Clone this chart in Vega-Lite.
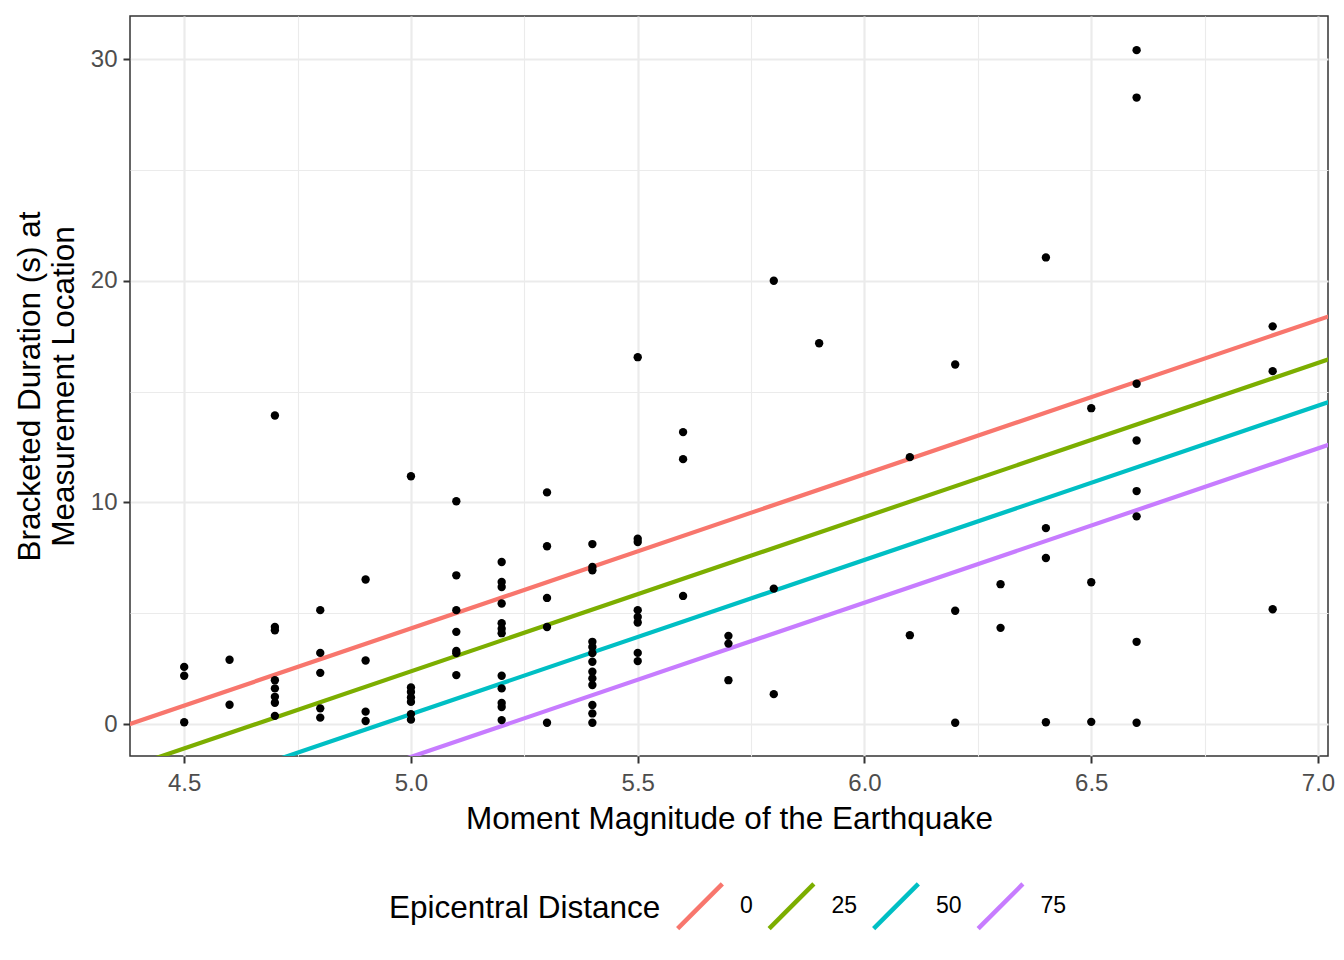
{
  "$schema": "https://vega.github.io/schema/vega-lite/v6.json",
  "width": 1198,
  "height": 740,
  "autosize": {"type": "none"},
  "padding": {"left": 130, "top": 16, "right": 16, "bottom": 204},
  "background": "white",
  "config": {
    "font": "Liberation Sans",
    "view": {"stroke": "#333333", "strokeWidth": 1.5},
    "axis": {
      "domain": false,
      "gridColor": "#EBEBEB",
      "gridWidth": 2.2,
      "tickColor": "#333333",
      "tickWidth": 2,
      "tickSize": 7,
      "labelFont": "Liberation Sans",
      "labelFontSize": 24,
      "labelColor": "#4D4D4D",
      "titleFont": "Liberation Sans",
      "titleFontSize": 31.5,
      "titleFontWeight": "normal",
      "titleColor": "#000000"
    },
    "legend": {
      "labelFont": "Liberation Sans",
      "titleFont": "Liberation Sans"
    }
  },
  "datasets": {
    "pts": [
      {"mag": 4.5, "dur": 2.58}, {"mag": 4.5, "dur": 2.18}, {"mag": 4.5, "dur": 0.08},
      {"mag": 4.6, "dur": 2.90}, {"mag": 4.6, "dur": 0.87},
      {"mag": 4.7, "dur": 13.92}, {"mag": 4.7, "dur": 4.38}, {"mag": 4.7, "dur": 4.23}, {"mag": 4.7, "dur": 1.98}, {"mag": 4.7, "dur": 1.61}, {"mag": 4.7, "dur": 1.23}, {"mag": 4.7, "dur": 0.96}, {"mag": 4.7, "dur": 0.37},
      {"mag": 4.8, "dur": 5.14}, {"mag": 4.8, "dur": 3.21}, {"mag": 4.8, "dur": 2.31}, {"mag": 4.8, "dur": 0.71}, {"mag": 4.8, "dur": 0.29},
      {"mag": 4.9, "dur": 6.52}, {"mag": 4.9, "dur": 2.87}, {"mag": 4.9, "dur": 0.56}, {"mag": 4.9, "dur": 0.14},
      {"mag": 5.0, "dur": 11.18}, {"mag": 5.0, "dur": 1.65}, {"mag": 5.0, "dur": 1.45}, {"mag": 5.0, "dur": 1.2}, {"mag": 5.0, "dur": 1.0}, {"mag": 5.0, "dur": 0.45}, {"mag": 5.0, "dur": 0.2},
      {"mag": 5.1, "dur": 10.05}, {"mag": 5.1, "dur": 6.71}, {"mag": 5.1, "dur": 5.14}, {"mag": 5.1, "dur": 4.16}, {"mag": 5.1, "dur": 3.30}, {"mag": 5.1, "dur": 3.20}, {"mag": 5.1, "dur": 2.21},
      {"mag": 5.2, "dur": 7.31}, {"mag": 5.2, "dur": 6.41}, {"mag": 5.2, "dur": 6.18}, {"mag": 5.2, "dur": 5.44}, {"mag": 5.2, "dur": 4.55}, {"mag": 5.2, "dur": 4.30}, {"mag": 5.2, "dur": 4.1}, {"mag": 5.2, "dur": 2.18}, {"mag": 5.2, "dur": 1.61}, {"mag": 5.2, "dur": 0.95}, {"mag": 5.2, "dur": 0.77}, {"mag": 5.2, "dur": 0.18},
      {"mag": 5.3, "dur": 10.45}, {"mag": 5.3, "dur": 8.02}, {"mag": 5.3, "dur": 5.69}, {"mag": 5.3, "dur": 4.38}, {"mag": 5.3, "dur": 0.06},
      {"mag": 5.4, "dur": 8.12}, {"mag": 5.4, "dur": 7.09}, {"mag": 5.4, "dur": 6.94}, {"mag": 5.4, "dur": 3.71}, {"mag": 5.4, "dur": 3.48}, {"mag": 5.4, "dur": 3.2}, {"mag": 5.4, "dur": 2.81}, {"mag": 5.4, "dur": 2.36}, {"mag": 5.4, "dur": 2.06}, {"mag": 5.4, "dur": 1.76}, {"mag": 5.4, "dur": 0.86}, {"mag": 5.4, "dur": 0.48}, {"mag": 5.4, "dur": 0.06},
      {"mag": 5.5, "dur": 16.55}, {"mag": 5.5, "dur": 8.36}, {"mag": 5.5, "dur": 8.21}, {"mag": 5.5, "dur": 5.14}, {"mag": 5.5, "dur": 4.83}, {"mag": 5.5, "dur": 4.58}, {"mag": 5.5, "dur": 3.21}, {"mag": 5.5, "dur": 2.84},
      {"mag": 5.6, "dur": 13.17}, {"mag": 5.6, "dur": 11.95}, {"mag": 5.6, "dur": 5.78},
      {"mag": 5.7, "dur": 3.98}, {"mag": 5.7, "dur": 3.63}, {"mag": 5.7, "dur": 1.98},
      {"mag": 5.8, "dur": 20.0}, {"mag": 5.8, "dur": 6.11}, {"mag": 5.8, "dur": 1.35},
      {"mag": 5.9, "dur": 17.18},
      {"mag": 6.1, "dur": 12.04}, {"mag": 6.1, "dur": 4.01},
      {"mag": 6.2, "dur": 16.22}, {"mag": 6.2, "dur": 5.11}, {"mag": 6.2, "dur": 0.06},
      {"mag": 6.3, "dur": 6.31}, {"mag": 6.3, "dur": 4.34},
      {"mag": 6.4, "dur": 21.05}, {"mag": 6.4, "dur": 8.84}, {"mag": 6.4, "dur": 7.49}, {"mag": 6.4, "dur": 0.08},
      {"mag": 6.5, "dur": 14.25}, {"mag": 6.5, "dur": 6.40}, {"mag": 6.5, "dur": 0.1},
      {"mag": 6.6, "dur": 30.4}, {"mag": 6.6, "dur": 28.26}, {"mag": 6.6, "dur": 15.35}, {"mag": 6.6, "dur": 12.79}, {"mag": 6.6, "dur": 10.51}, {"mag": 6.6, "dur": 9.37}, {"mag": 6.6, "dur": 3.71}, {"mag": 6.6, "dur": 0.06},
      {"mag": 6.9, "dur": 17.94}, {"mag": 6.9, "dur": 15.92}, {"mag": 6.9, "dur": 5.18}
    ],
    "fits": [
      {"dist": 0, "mag": 4.3, "dur": -0.557}, {"dist": 0, "mag": 7.1, "dur": 18.923},
      {"dist": 25, "mag": 4.3, "dur": -2.49}, {"dist": 25, "mag": 7.1, "dur": 16.99},
      {"dist": 50, "mag": 4.3, "dur": -4.42}, {"dist": 50, "mag": 7.1, "dur": 15.06},
      {"dist": 75, "mag": 4.3, "dur": -6.35}, {"dist": 75, "mag": 7.1, "dur": 13.13}
    ]
  },
  "layer": [
    {
      "data": {"name": "fits"},
      "mark": {"type": "line", "clip": true, "strokeWidth": 4.2},
      "encoding": {
        "x": {
          "field": "mag", "type": "quantitative",
          "scale": {"domain": [4.3805, 7.022], "nice": false, "zero": false},
          "axis": {"orient": "bottom", "values": [4.75, 5.25, 5.75, 6.25, 6.75], "grid": true, "gridWidth": 1.1, "labels": false, "ticks": false, "domain": false, "title": null}
        },
        "y": {
          "field": "dur", "type": "quantitative",
          "scale": {"domain": [-1.44, 31.94], "nice": false, "zero": false},
          "axis": {"orient": "left", "values": [5, 15, 25], "grid": true, "gridWidth": 1.1, "labels": false, "ticks": false, "domain": false, "title": null}
        },
        "color": {
          "field": "dist", "type": "ordinal",
          "scale": {"domain": [0, 25, 50, 75], "range": ["#F8766D", "#7CAE00", "#00BFC4", "#C77CFF"]},
          "legend": {
            "title": "Epicentral Distance",
            "orient": "none",
            "legendX": 259,
            "legendY": 865,
            "direction": "horizontal",
            "titleOrient": "left",
            "titleFontSize": 31.5,
            "titleFontWeight": "normal",
            "titleColor": "#000000",
            "titleLimit": 800,
            "titlePadding": 14,
            "titleBaseline": "middle",
            "labelFontSize": 23,
            "labelColor": "#000000",
            "labelOffset": 15,
            "columnPadding": 6.5,
            "symbolType": "M-1,1L1,-1",
            "symbolSize": 2000,
            "symbolStrokeWidth": 4.5
          }
        }
      }
    },
    {
      "data": {"name": "pts"},
      "mark": {"type": "circle", "size": 70, "color": "#000000", "opacity": 1},
      "encoding": {
        "x": {
          "field": "mag", "type": "quantitative",
          "axis": {"orient": "bottom", "values": [4.5, 5.0, 5.5, 6.0, 6.5, 7.0], "format": ".1f", "grid": true, "labelPadding": 8, "titlePadding": 8, "title": "Moment Magnitude of the Earthquake"}
        },
        "y": {
          "field": "dur", "type": "quantitative",
          "axis": {"orient": "left", "values": [0, 10, 20, 30], "grid": true, "labelPadding": 6, "titlePadding": 10, "title": ["Bracketed Duration (s) at", "Measurement Location"]}
        }
      }
    }
  ],
  "resolve": {"axis": {"x": "independent", "y": "independent"}}
}
